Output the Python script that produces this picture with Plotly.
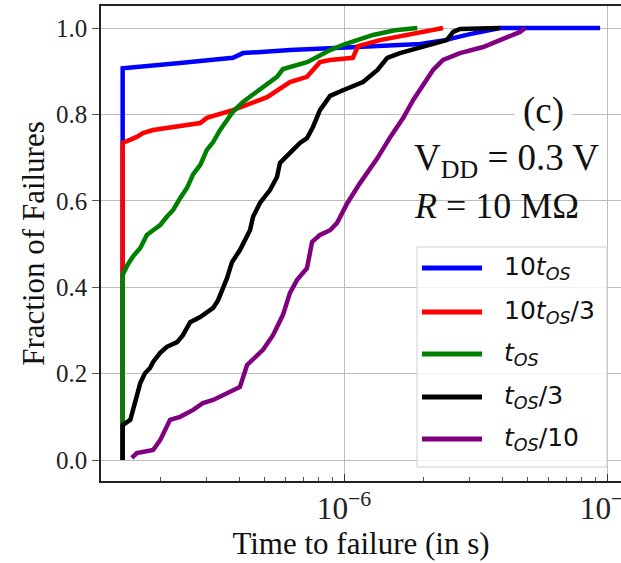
import plotly.graph_objects as go

# Time to failure (s) and cumulative fraction of failures, one pair per pulse width
t_10tos = [1.44e-7, 1.44e-7, 2.38e-7, 3.78e-7, 4.13e-7, 6.23e-7, 1.12e-6, 1.95e-6,
           2.42e-6, 3.01e-6, 3.92e-6, 9.41e-6]
f_10tos = [0.0, 0.907, 0.919, 0.931, 0.942, 0.949, 0.956, 0.963, 0.972, 0.986, 1.0, 1.0]

t_10tos3 = [1.44e-7, 1.44e-7, 1.63e-7, 1.72e-7, 1.88e-7, 2.84e-7, 3.01e-7, 3.78e-7, 5.10e-7,
            6.23e-7, 7.23e-7, 8.10e-7, 8.85e-7, 1.08e-6, 1.13e-6, 1.37e-6, 2.38e-6]
f_10tos3 = [0.0, 0.734, 0.748, 0.757, 0.764, 0.780, 0.792, 0.810, 0.840, 0.875, 0.887,
            0.921, 0.926, 0.931, 0.958, 0.972, 1.0]

t_tos = [1.44e-7, 1.44e-7, 1.50e-7, 1.58e-7, 1.68e-7, 1.78e-7, 1.88e-7, 2.00e-7, 2.12e-7,
         2.24e-7, 2.38e-7, 2.53e-7, 2.67e-7, 2.84e-7, 3.01e-7, 3.18e-7, 3.38e-7, 3.59e-7,
         3.78e-7, 4.13e-7, 4.51e-7, 4.92e-7, 5.56e-7, 5.86e-7, 6.40e-7, 7.23e-7, 7.90e-7,
         8.85e-7, 1.01e-6, 1.12e-6, 1.29e-6, 1.56e-6, 1.90e-6]
f_tos = [0.0, 0.428, 0.451, 0.472, 0.491, 0.521, 0.532, 0.544, 0.563, 0.579, 0.606, 0.630,
         0.662, 0.683, 0.718, 0.736, 0.764, 0.787, 0.806, 0.829, 0.847, 0.863, 0.887, 0.905,
         0.912, 0.921, 0.933, 0.949, 0.963, 0.972, 0.984, 0.995, 1.0]

t_tos3 = [1.44e-7, 1.44e-7, 1.54e-7, 1.58e-7, 1.63e-7, 1.68e-7, 1.75e-7, 1.83e-7, 1.88e-7,
          2.00e-7, 2.12e-7, 2.32e-7, 2.44e-7, 2.60e-7, 2.84e-7, 3.18e-7, 3.32e-7, 3.44e-7,
          3.59e-7, 3.75e-7, 4.02e-7, 4.39e-7, 4.51e-7, 4.79e-7, 5.23e-7, 5.56e-7, 5.71e-7,
          6.23e-7, 6.80e-7, 7.23e-7, 7.62e-7, 8.10e-7, 8.85e-7, 9.91e-7, 1.18e-6, 1.34e-6,
          1.46e-6, 1.63e-6, 1.90e-6, 2.26e-6, 2.46e-6, 2.60e-6, 2.76e-6, 3.92e-6]
f_tos3 = [0.0, 0.081, 0.093, 0.116, 0.146, 0.178, 0.201, 0.213, 0.227, 0.248, 0.262, 0.273,
          0.289, 0.319, 0.331, 0.352, 0.370, 0.394, 0.421, 0.458, 0.486, 0.532, 0.563, 0.595,
          0.625, 0.655, 0.688, 0.711, 0.734, 0.745, 0.771, 0.810, 0.843, 0.856, 0.875, 0.903,
          0.931, 0.942, 0.954, 0.965, 0.972, 0.991, 0.998, 1.0]

t_tos10 = [1.56e-7, 1.63e-7, 1.88e-7, 2.00e-7, 2.18e-7, 2.38e-7, 2.67e-7, 2.91e-7, 3.18e-7,
           3.59e-7, 4.02e-7, 4.28e-7, 4.59e-7, 4.92e-7, 5.37e-7, 5.86e-7, 6.23e-7, 6.63e-7,
           7.23e-7, 7.56e-7, 8.10e-7, 8.85e-7, 9.41e-7, 1.03e-6, 1.15e-6, 1.34e-6, 1.50e-6,
           1.68e-6, 1.83e-6, 2.00e-6, 2.18e-6, 2.38e-6, 2.76e-6, 3.38e-6, 4.17e-6, 4.67e-6,
           4.88e-6]
f_tos10 = [0.005, 0.016, 0.023, 0.046, 0.093, 0.100, 0.116, 0.132, 0.139, 0.155, 0.169,
           0.220, 0.238, 0.255, 0.289, 0.336, 0.387, 0.417, 0.444, 0.505, 0.521, 0.532,
           0.549, 0.595, 0.641, 0.699, 0.748, 0.792, 0.833, 0.868, 0.903, 0.926, 0.942,
           0.956, 0.979, 0.991, 1.0]

series_t = [t_10tos, t_10tos3, t_tos, t_tos3, t_tos10]
series_f = [f_10tos, f_10tos3, f_tos, f_tos3, f_tos10]
series_names = ["10<i>t</i><sub><i>OS</i></sub>",
                "10<i>t</i><sub><i>OS</i></sub>/3",
                "<i>t</i><sub><i>OS</i></sub>",
                "<i>t</i><sub><i>OS</i></sub>/3",
                "<i>t</i><sub><i>OS</i></sub>/10"]
series_colors = ["#0000ff", "#ff0000", "#008000", "#000000", "#800080"]

y_ticks = [0.0, 0.2, 0.4, 0.6, 0.8, 1.0]

SERIF = "Liberation Serif"
SANS = "DejaVu Sans"
LINE_W = 4.5

fig = go.Figure()
for t, f, name, col in zip(series_t, series_f, series_names, series_colors):
    fig.add_trace(go.Scatter(x=t, y=f, mode="lines", name=name, showlegend=False,
                             line=dict(color=col, width=LINE_W)))

# Legend panel drawn in paper coordinates
leg_x0, leg_x1, leg_y0, leg_y1 = 0.6077, 0.9731, 0.0295, 0.4926
fig.add_shape(type="rect", xref="paper", yref="paper", x0=leg_x0, x1=leg_x1, y0=leg_y0, y1=leg_y1,
              fillcolor="rgba(255,255,255,0.8)", line=dict(color="#d0d0d0", width=1), layer="above")
row_y = [0.4484, 0.3558, 0.2674, 0.1768, 0.0884]
for ry, name, col in zip(row_y, series_names, series_colors):
    fig.add_shape(type="line", xref="paper", yref="paper", x0=0.6173, x1=0.7327, y0=ry, y1=ry,
                  line=dict(color=col, width=5), layer="above")
    fig.add_annotation(xref="paper", yref="paper", x=0.772, y=ry, text=name, showarrow=False,
                       xanchor="left", yanchor="middle", font=dict(family=SANS, size=25, color="#111"))

# Panel label and operating conditions
fig.add_annotation(xref="paper", yref="paper", x=0.85, y=0.778, text="(c)", showarrow=False,
                   xanchor="center", yanchor="middle", bgcolor="white", borderpad=8,
                   font=dict(family=SERIF, size=37, color="#111"))
fig.add_annotation(xref="paper", yref="paper", x=0.598, y=0.675, text="V<sub>DD</sub> = 0.3 V",
                   showarrow=False, xanchor="left", yanchor="middle",
                   font=dict(family=SERIF, size=37, color="#111"))
fig.add_annotation(xref="paper", yref="paper", x=0.598, y=0.578, text="<i>R</i> = 10 MΩ",
                   showarrow=False, xanchor="left", yanchor="middle",
                   font=dict(family=SERIF, size=36, color="#111"))

fig.update_layout(
    width=621, height=563,
    margin=dict(l=101, r=0, t=6, b=82, autoexpand=False),
    paper_bgcolor="white", plot_bgcolor="white",
    xaxis=dict(
        type="log", range=[-6.924, -4.947], automargin=False,
        dtick=1, exponentformat="power", ticklabeloverflow="allow",
        showgrid=True, gridcolor="#bdbdbd", gridwidth=1,
        showline=True, linecolor="#222", linewidth=1.5, mirror=True,
        ticks="inside", ticklen=7, tickwidth=1.2, tickcolor="#333",
        minor=dict(dtick="D1", ticks="inside", ticklen=4,
                   tickwidth=1, tickcolor="#555", showgrid=False),
        tickfont=dict(family=SERIF, size=25, color="#222"),
        title=dict(text="Time to failure (in s)", font=dict(family=SERIF, size=31, color="#111"),
                   standoff=0),
        zeroline=False,
    ),
    yaxis=dict(
        range=[-0.0486, 1.051], automargin=False,
        tickvals=y_ticks, tickformat=".1f",
        showgrid=True, gridcolor="#bdbdbd", gridwidth=1,
        showline=True, linecolor="#222", linewidth=1.5,
        ticks="outside", ticklen=7, tickwidth=1.2, tickcolor="#555",
        tickfont=dict(family=SERIF, size=25, color="#222"),
        title=dict(text="Fraction of Failures", font=dict(family=SERIF, size=31, color="#111"),
                   standoff=2),
        zeroline=False,
    ),
)

fig.write_html("out.html")
